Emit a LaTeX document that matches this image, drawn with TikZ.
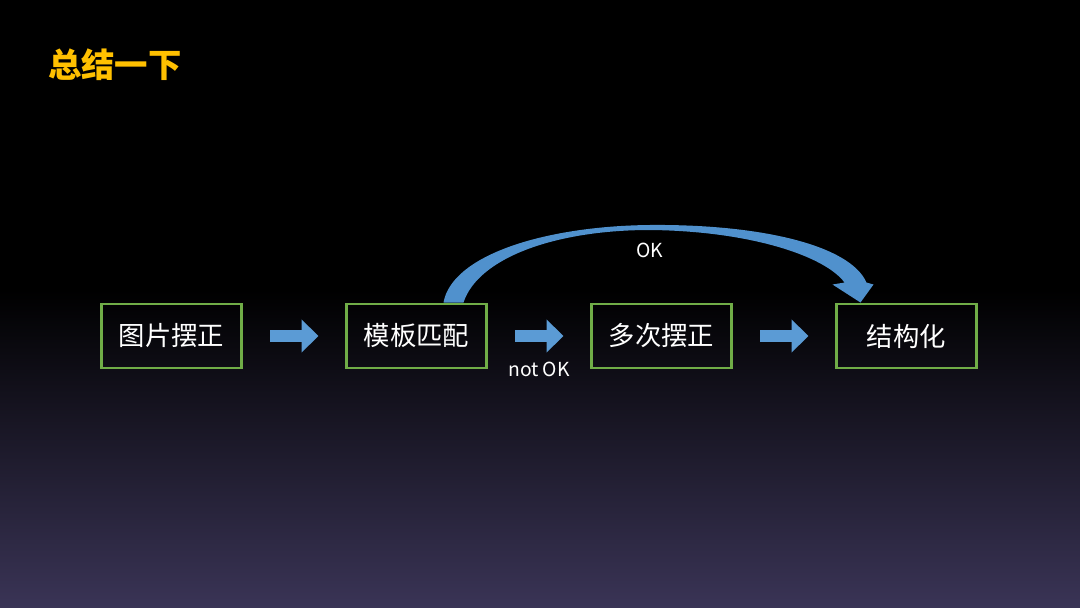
\documentclass[tikz,border=0pt]{standalone}
\usepackage{fontspec}
\setmainfont{Noto Sans CJK SC}
\usetikzlibrary{arrows.meta,calc}
\definecolor{boxgreen}{RGB}{112,173,71}
\definecolor{flowblue}{RGB}{91,155,213}
\definecolor{okblue}{RGB}{80,145,205}
\definecolor{titleyellow}{RGB}{255,192,0}
\definecolor{bgbottom}{RGB}{58,52,86}

\begin{document}
\begin{tikzpicture}[x=0.02cm, y=-0.02cm,
  box/.style={draw=boxgreen, line width=1.7pt, minimum width=2.82cm, minimum height=1.28cm,
    text=white, font=\fontsize{15}{18}\selectfont},
  flow/.style={draw=flowblue, line width=0.26cm, -{Triangle[length=0.34cm, width=0.64cm]},
    shorten <=0.54cm, shorten >=0.52cm},
  lbl/.style={text=white, font=\fontsize{11}{13}\selectfont}]

% background
\useasboundingbox (0,0) rectangle (1080,608);
\fill[black] (0,0) rectangle (1080,608);
\shade[top color=black, bottom color=bgbottom] (0,290) rectangle (1080,608);

% title
\node[anchor=west, text=titleyellow, font=\fontsize{19}{23}\selectfont\bfseries] (title) at (42,65) {总结一下};

% steps
\node[box] (b1) at (171.5,336) {图片摆正};
\node[box] (b2) at (416.5,336) {模板匹配};
\node[box] (b3) at (661.5,336) {多次摆正};
\node[box] (b4) at (906.5,336) {结构化};

\draw[flow] (b1) -- (b2);
\draw[flow] (b2) -- (b3);
\draw[flow] (b3) -- (b4);
\node[lbl] (notok) at (539,369) {not OK};

% OK jump
\coordinate (okbase) at ([shift={(27,0)}]b2.north);
\coordinate (oktip) at ([shift={(-46,0)}]b4.north);
\fill[okblue] (okbase) .. controls (452,255) and (545,226) .. (650,225)
  .. controls (760,224) and (850,245) .. ([shift={(6,-20)}]oktip)
  -- ([shift={(13,-18)}]oktip) -- (oktip) -- ([shift={(-28,-18)}]oktip)
  -- ([shift={(-16,-20)}]oktip) .. controls (825,256) and (750,231) .. (650,230)
  .. controls (555,230) and (478,258) .. ([shift={(20,0)}]okbase) -- cycle;
\node[lbl] (ok) at (650,250) {OK};

\end{tikzpicture}
\end{document}
